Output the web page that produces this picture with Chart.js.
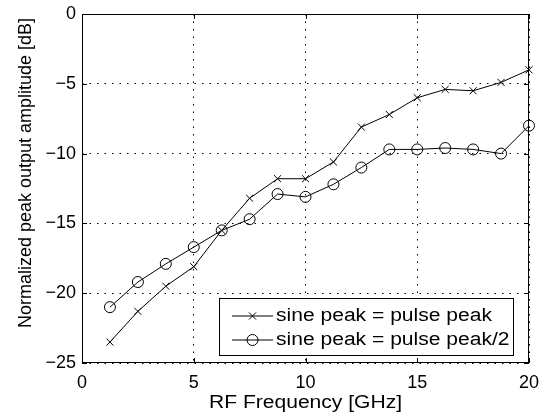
<!DOCTYPE html>
<html>
<head>
<meta charset="utf-8">
<script src="https://cdn.jsdelivr.net/npm/chart.js@4"></script>
<style>
  body { margin: 0; background: #fff; }
</style>
</head>
<body>
<canvas id="chart" width="544" height="420"></canvas>
<script>
// RF frequency [GHz]
var freqs = [1.25, 2.5, 3.75, 5, 6.25, 7.5, 8.75, 10, 11.25, 12.5, 13.75, 15, 16.25, 17.5, 18.75, 20];
// normalized peak output amplitude [dB]
var sinePeakEqual = [-23.5, -21.3, -19.5, -18.1, -15.5, -13.2, -11.8, -11.8, -10.6, -8.1, -7.2, -6.0, -5.4, -5.5, -4.9, -4.0];
var sinePeakHalf = [-21.0, -19.2, -17.9, -16.7, -15.5, -14.7, -12.9, -13.1, -12.2, -11.0, -9.7, -9.7, -9.6, -9.7, -10.0, -8.0];
var seriesLabels = ["sine peak = pulse peak", "sine peak = pulse peak/2"];
var xTitle = "RF Frequency [GHz]";
var yTitle = "Normalized peak output amplitude [dB]";

var FONT = "'Liberation Sans', Arial, Helvetica, sans-serif";
var WIDE = 1.17; // the scanned figure's text is a bit wider than Arial

function toPoints(xs, ys) {
  var pts = [];
  for (var i = 0; i < xs.length; i++) pts.push({ x: xs[i], y: ys[i] });
  return pts;
}

function wideText(ctx, str, x, y) {
  ctx.save();
  ctx.translate(x, y);
  ctx.scale(WIDE, 1);
  ctx.fillText(str, 0, 0);
  ctx.restore();
}

// box, inward ticks, legend and axis titles (matlab look)
var matlabBox = {
  id: 'matlabBox',
  afterDatasetsDraw: function(chart) {
    var ctx = chart.ctx;
    var ca = chart.chartArea;
    var xs = chart.scales.x, ys = chart.scales.y;
    ctx.save();
    ctx.strokeStyle = '#000';
    ctx.lineWidth = 1;
    ctx.setLineDash([]);
    ctx.strokeRect(ca.left + 0.5, ca.top + 0.5, ca.right - ca.left - 1, ca.bottom - ca.top - 1);

    var tl = 5;
    ctx.beginPath();
    xs.ticks.forEach(function(t) {
      var px = Math.round(xs.getPixelForValue(t.value)) + 0.5;
      ctx.moveTo(px, ca.bottom); ctx.lineTo(px, ca.bottom - tl);
      ctx.moveTo(px, ca.top); ctx.lineTo(px, ca.top + tl);
    });
    ys.ticks.forEach(function(t) {
      var py = Math.round(ys.getPixelForValue(t.value)) + 0.5;
      ctx.moveTo(ca.left, py); ctx.lineTo(ca.left + tl, py);
      ctx.moveTo(ca.right, py); ctx.lineTo(ca.right - tl, py);
    });
    ctx.stroke();

    // legend
    var lx = 219, ly = 298, lw = 294, lh = 57;
    ctx.fillStyle = '#fff';
    ctx.fillRect(lx, ly, lw, lh);
    ctx.strokeRect(lx + 0.5, ly + 0.5, lw, lh);
    ctx.font = '18px ' + FONT;
    ctx.textBaseline = 'middle';
    chart.data.datasets.forEach(function(ds, i) {
      var cy = ly + 18 + i * 24;
      ctx.strokeStyle = '#000';
      ctx.lineWidth = 1;
      ctx.beginPath();
      ctx.moveTo(232, cy); ctx.lineTo(273, cy);
      ctx.stroke();
      ctx.fillStyle = 'rgba(0,0,0,0)';
      Chart.helpers.drawPoint(ctx, {
        pointStyle: ds.pointStyle, radius: ds.pointRadius, borderWidth: 1, rotation: 0
      }, 252.5, cy);
      ctx.fillStyle = '#000';
      ctx.textAlign = 'left';
      wideText(ctx, ds.label, 276, cy);
    });

    // axis titles
    ctx.fillStyle = '#000';
    ctx.font = '18px ' + FONT;
    ctx.textAlign = 'center';
    ctx.textBaseline = 'middle';
    wideText(ctx, xTitle, (ca.left + ca.right) / 2, 403);
    ctx.translate(26, 173);
    ctx.rotate(-Math.PI / 2);
    ctx.fillText(yTitle, 0, 0);
    ctx.restore();
  }
};

var ctx = document.getElementById('chart').getContext('2d');
var chart = new Chart(ctx, {
  type: 'line',
  data: {
    datasets: [{
      label: seriesLabels[0],
      data: toPoints(freqs, sinePeakEqual),
      borderColor: '#000',
      borderWidth: 1,
      pointStyle: 'crossRot',
      pointRadius: 5,
      pointBorderColor: '#000',
      pointBorderWidth: 1,
      backgroundColor: 'rgba(0,0,0,0)',
      tension: 0,
      clip: false
    }, {
      label: seriesLabels[1],
      data: toPoints(freqs, sinePeakHalf),
      borderColor: '#000',
      borderWidth: 1,
      pointStyle: 'circle',
      pointRadius: 5.5,
      pointBorderColor: '#000',
      pointBorderWidth: 1,
      pointBackgroundColor: 'rgba(0,0,0,0)',
      backgroundColor: 'rgba(0,0,0,0)',
      tension: 0,
      clip: false
    }]
  },
  options: {
    responsive: false,
    animation: false,
    layout: { padding: { left: 0, top: 14, right: 15, bottom: 0 } },
    plugins: {
      legend: { display: false },
      tooltip: { enabled: false }
    },
    scales: {
      x: {
        type: 'linear',
        min: 0, max: 20,
        grid: { color: '#000', lineWidth: 1, drawTicks: false },
        border: { display: false, dash: [1.5, 6] },
        ticks: { stepSize: 5, padding: 9, color: '#000', font: { family: FONT, size: 18 } },
        afterFit: function(s) {
          s.height = 57;
          s.paddingLeft = 0; s.paddingRight = 0;
        }
      },
      y: {
        min: -25, max: 0,
        grid: { color: '#000', lineWidth: 1, drawTicks: false },
        border: { display: false, dash: [1.5, 6] },
        ticks: {
          stepSize: 5, padding: 6, color: '#000', font: { family: FONT, size: 18 },
          callback: function(v) { return v < 0 ? '\u2212' + Math.abs(v) : String(v); }
        },
        afterFit: function(s) {
          s.width = 82;
          s.paddingTop = 0; s.paddingBottom = 0;
        }
      }
    }
  },
  plugins: [matlabBox]
});
</script>
</body>
</html>
